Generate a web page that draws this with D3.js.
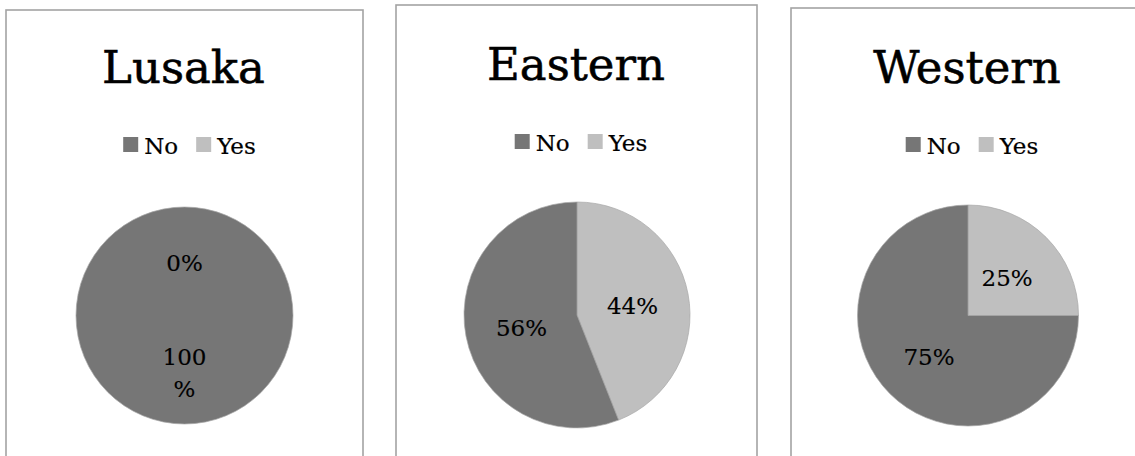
<!DOCTYPE html>
<html>
<head>
<meta charset="utf-8">
<script src="https://cdn.jsdelivr.net/npm/d3@7/dist/d3.min.js"></script>
<style>
  html, body { margin: 0; padding: 0; background: #fff; }
  svg { display: block; }
  text { font-family: "DejaVu Serif", "Liberation Serif", serif; fill: #000; }
</style>
</head>
<body>
<svg id="chart" width="1135" height="456"></svg>
<script>
// Survey answers by province
const provinces = ["Lusaka", "Eastern", "Western"];
const answers = ["No", "Yes"];
const noShare = [100, 56, 75];
const yesShare = [0, 44, 25];

// Panel frames and pie placement
const panels = [
  { x: 6,   y: 10, w: 357, h: 470, cx: 184.5, cy: 315.5, r: 108.5, titleY: 83, legendY: 154, legendDx: 5 },
  { x: 396, y: 5,  w: 361, h: 470, cx: 577,   cy: 315,   r: 113,   titleY: 80, legendY: 151, legendDx: 4 },
  { x: 791, y: 8,  w: 360, h: 470, cx: 968,   cy: 315.5, r: 110.5, titleY: 83, legendY: 154, legendDx: 4 }
];

const color = d3.scaleOrdinal().domain(answers).range(["#767676", "#bfbfbf"]);

const svg = d3.select("#chart");

const pie = d3.pie().sort(null).value(d => d.value);

provinces.forEach((name, i) => {
  const p = panels[i];
  const g = svg.append("g");

  g.append("rect")
    .attr("x", p.x).attr("y", p.y)
    .attr("width", p.w).attr("height", p.h)
    .attr("fill", "#fff")
    .attr("stroke", "#a3a3a3")
    .attr("stroke-width", 1.6);

  g.append("text")
    .attr("x", p.cx - 1)
    .attr("y", p.titleY)
    .attr("text-anchor", "middle")
    .attr("stroke", "#000")
    .attr("stroke-width", 0.55)
    .style("font-size", "45px")
    .text(name);

  // Legend
  const leg = g.append("g");
  let x = 0;
  answers.forEach((a, k) => {
    const item = leg.append("g").attr("transform", `translate(${x},0)`);
    item.append("rect")
      .attr("x", 0).attr("y", -17)
      .attr("width", 15).attr("height", 15)
      .attr("fill", color(a));
    const t = item.append("text")
      .attr("x", 21).attr("y", 0)
      .attr("stroke", "#000")
      .attr("stroke-width", 0.2)
      .style("font-size", "23px")
      .text(a);
    x += 21 + t.node().getComputedTextLength() + 18;
  });
  const legW = x - 18;
  leg.attr("transform", `translate(${p.cx + p.legendDx - legW / 2},${p.legendY})`);

  // Pie
  const data = [
    { key: "No", value: noShare[i] },
    { key: "Yes", value: yesShare[i] }
  ];
  // Yes slice starts at 12 o'clock and runs clockwise; No fills the rest
  const arcs = pie(data.slice().reverse());
  const arc = d3.arc().innerRadius(0).outerRadius(p.r);
  const labelArc = d3.arc().innerRadius(p.r * 0.5).outerRadius(p.r * 0.5);

  const pg = g.append("g").attr("transform", `translate(${p.cx},${p.cy})`);
  pg.selectAll("path")
    .data(arcs)
    .join("path")
    .attr("d", arc)
    .attr("fill", d => color(d.data.key))
    .attr("stroke", "#a8a8a8")
    .attr("stroke-width", 0.7);

  pg.selectAll("text.lbl")
    .data(arcs)
    .join("text")
    .attr("class", "lbl")
    .attr("text-anchor", "middle")
    .attr("stroke", "#000")
    .attr("stroke-width", 0.15)
    .style("font-size", "23px")
    .each(function(d) {
      const [lx, ly] = labelArc.centroid(d);
      const label = d3.format(".0%")(d.data.value / 100);
      const t = d3.select(this);
      t.attr("x", lx).attr("y", ly + 10).text(label);
      // wrap wide labels onto two lines
      if (this.getComputedTextLength() > 52) {
        t.text(null);
        const num = label.replace("%", "");
        t.append("tspan").attr("x", lx).attr("y", ly - 5).text(num);
        t.append("tspan").attr("x", lx).attr("y", ly + 27).text("%");
      }
    });
});
</script>
</body>
</html>
